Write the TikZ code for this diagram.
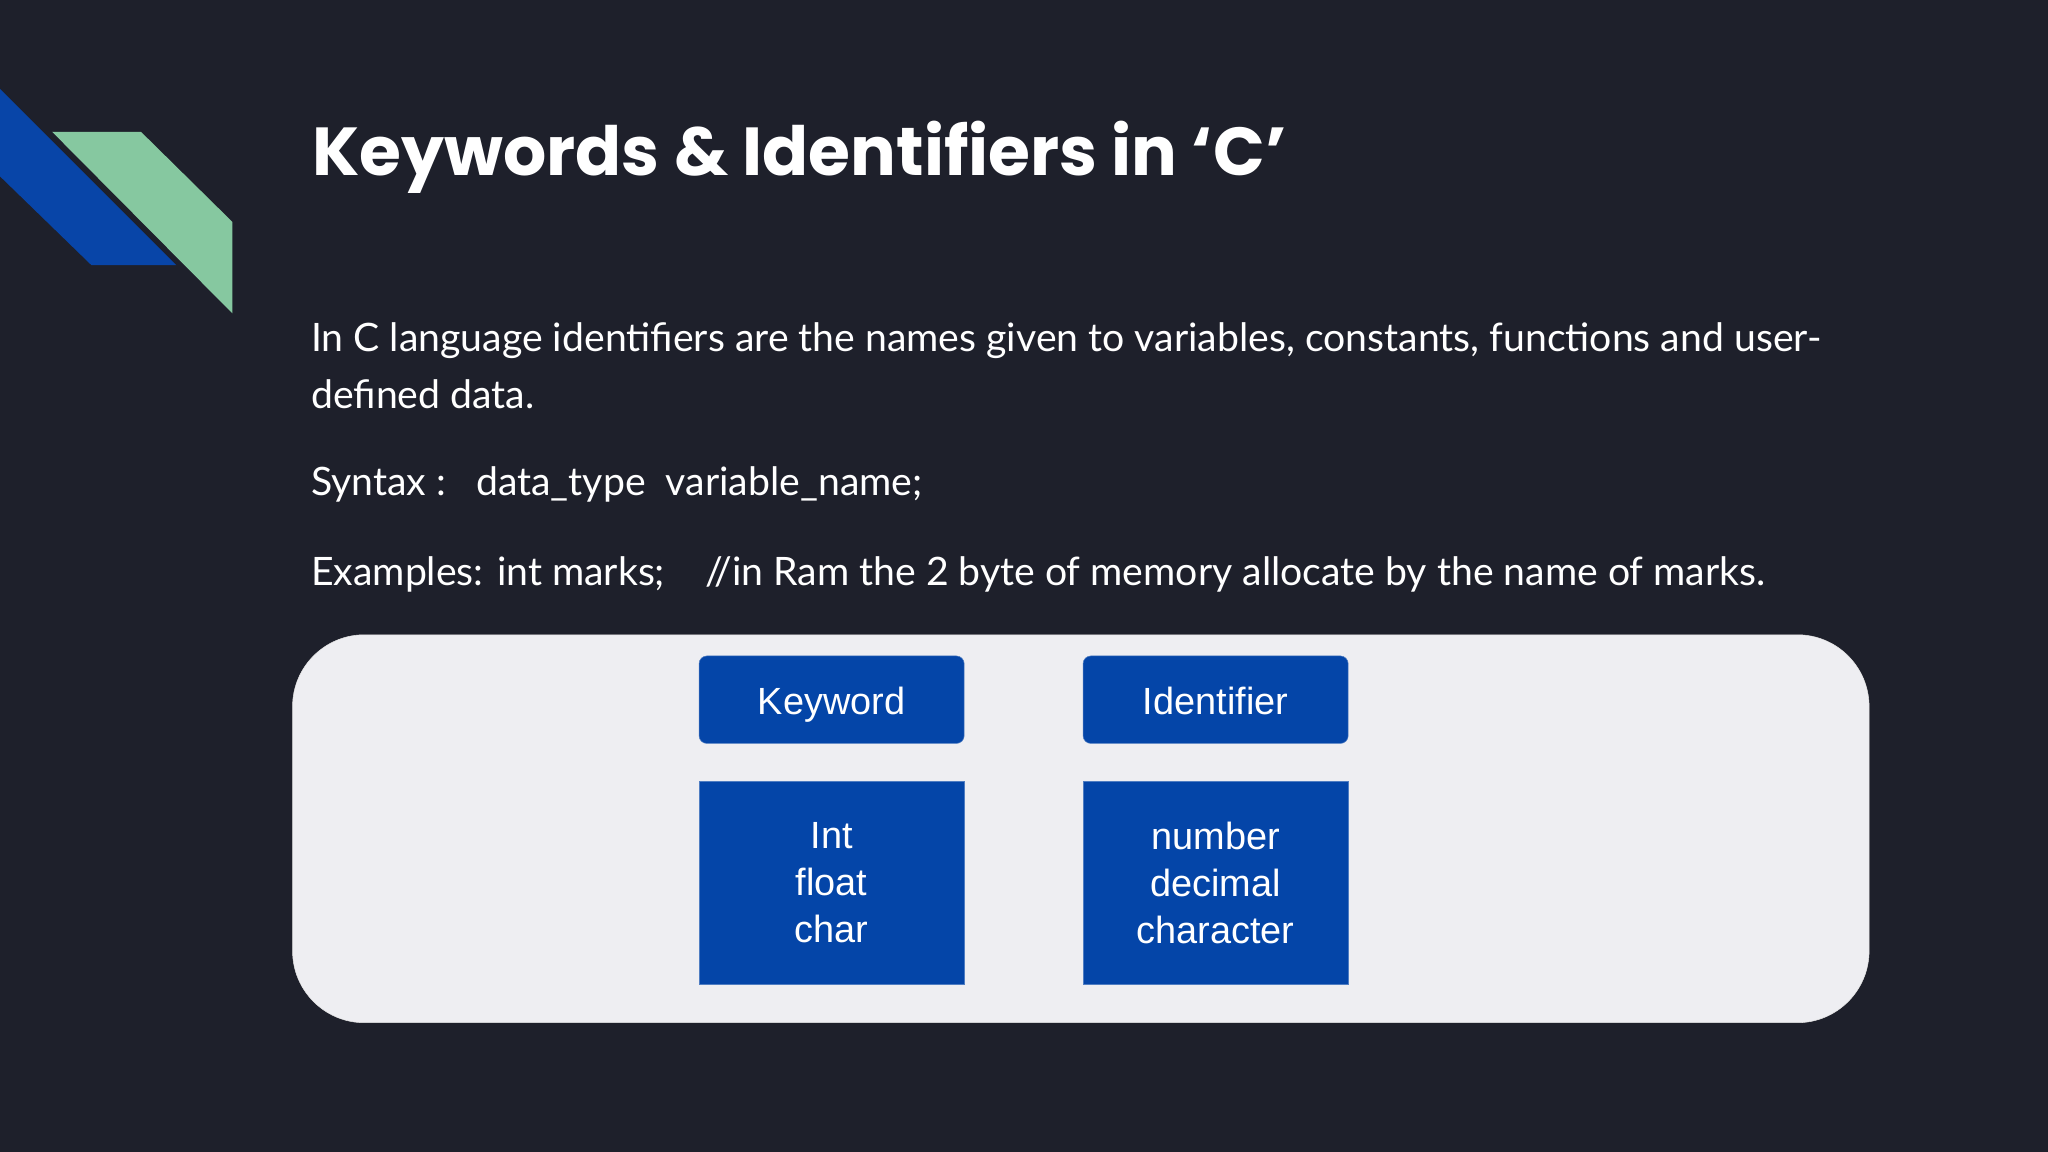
\documentclass[tikz,border=0pt]{standalone}
\usepackage{fontspec}
\setmainfont{Lato}
\newfontfamily\titlefont{Poppins}
\newfontfamily\boxfont{Liberation Sans}
\definecolor{bg}{HTML}{1E202B}
\definecolor{stripeblue}{HTML}{0845A8}
\definecolor{stripegreen}{HTML}{86C8A0}
\definecolor{panel}{HTML}{EEEEF2}
\definecolor{boxblue}{HTML}{0445A8}
\tikzset{
 bodytext/.style={anchor=west,text=white,font=\fontsize{30}{34}\selectfont,inner sep=0pt},
 headbox/.style={fill=boxblue,draw=boxblue!70!white,rounded corners=6pt,minimum width=203pt,minimum height=67pt,text=white,font=\boxfont\fontsize{29}{36}\selectfont,anchor=north west,text height=25pt,text depth=2pt},
 listbox/.style={fill=boxblue,draw=boxblue!70!white,minimum width=203pt,minimum height=155pt,text=white,font=\boxfont\fontsize{29}{36}\selectfont,align=center,anchor=north west}
}
\begin{document}
\begin{tikzpicture}[x=1pt,y=-1pt]
\fill[bg] (0,0) rectangle (1568,882);
\useasboundingbox (0,0) rectangle (1568,882);
\fill[stripeblue] (0,68) -- (135,203) -- (70,203) -- (0,135) -- cycle;
\fill[stripegreen] (40,101) -- (108,101) -- (178,170) -- (178,240) -- cycle;
\node[anchor=base west,text=white,inner sep=0pt,font=\titlefont\bfseries\fontsize{52}{60}\selectfont] (title) at (239,134) {Keywords \& Identifiers in ‘C’};
\node[bodytext] (p1) at (238,261) {In C language identifiers are the names given to variables, constants, functions and user-};
\node[bodytext] (p2) at (238,302) {defined data.};
\node[bodytext] (p3) at (238,371) {Syntax :\ \ \ data\_type\ \ variable\_name;};
\node[bodytext] (p4) at (238,440) {Examples: int marks;\ \ \ \ //in Ram the 2 byte of memory allocate by the name of marks.};
\draw[fill=panel,draw=white!80!gray,rounded corners=55pt] (224,486) rectangle (1431,783);
\node[headbox] (kw) at (535,502) {Keyword};
\node[headbox] (id) at (829,502) {Identifier};
\node[listbox] (kwl) at (535,598) {Int\\float\\char};
\node[listbox] (idl) at (829,598) {number\\decimal\\character};
\end{tikzpicture}
\end{document}
